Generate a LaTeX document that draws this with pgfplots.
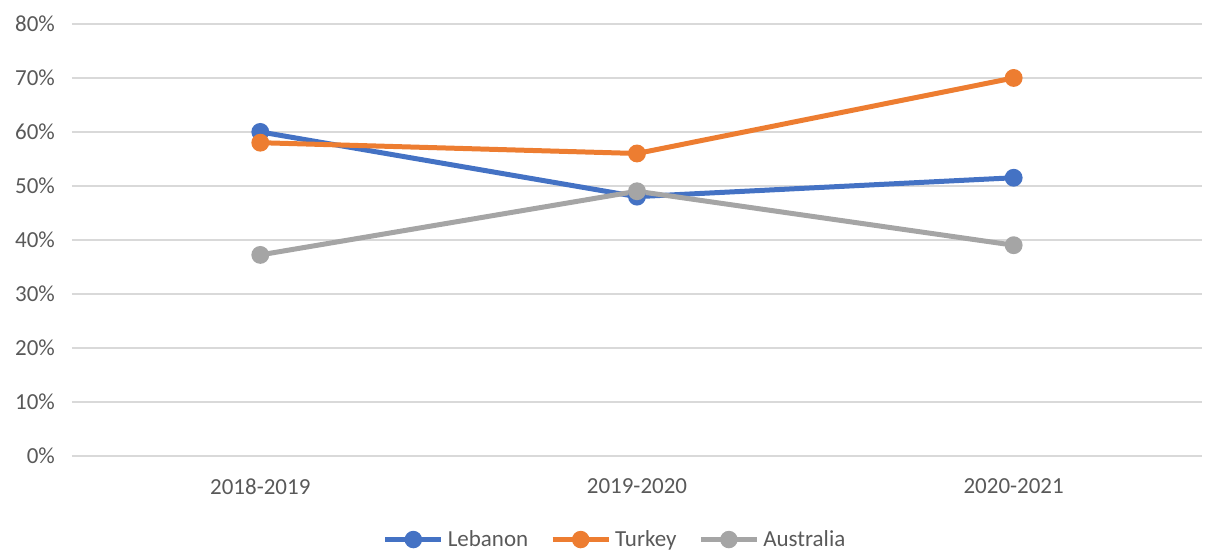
\documentclass[border=0pt]{standalone}
\usepackage{pgfplots}
\pgfplotsset{compat=1.18}
\usepackage{fontspec}
\setmainfont{Carlito}
\definecolor{cblue}{HTML}{4472C4}
\definecolor{corange}{HTML}{ED7D31}
\definecolor{cgray}{HTML}{A5A5A5}
\definecolor{cgrid}{HTML}{D9D9D9}
\definecolor{ctext}{HTML}{595959}
\begin{document}
\begin{tikzpicture}
\path[use as bounding box] (-36pt,-48pt) rectangle (567pt,228pt);
\begin{axis}[
  at={(0,0)}, anchor=south west,
  scale only axis, width=565.5pt, height=216pt,
  xmin=-0.5, xmax=2.5, ymin=0, ymax=80,
  xtick={0,1,2}, xticklabels={2018-2019,2019-2020,2020-2021},
  ytick={0,10,...,80},
  yticklabel={\pgfmathprintnumber{\tick}\%},
  /pgf/number format/assume math mode=true,
  axis line style={draw=none},
  major tick style={draw=none},
  ymajorgrids, grid style={cgrid, line width=1pt},
  tick label style={font=\fontsize{11.5}{13}\selectfont, text=ctext},
  xticklabel style={yshift=-8pt},
  yticklabel style={xshift=-5pt},
  clip=false,
  legend columns=3,
  legend style={at={(0.4815,0)}, anchor=center, yshift=-42pt, draw=none, fill=none,
    font=\fontsize{11.5}{13}\selectfont, text=ctext,
    /tikz/every even column/.append style={column sep=9pt}},
  legend image code/.code={
    \draw[#1, mark=none] (0pt,0pt) -- (28pt,0pt);
    \fill[#1] (14pt,0pt) circle (3.1pt);
  },
  every axis plot/.append style={line width=2.5pt, mark=*, mark size=3.2pt},
]
\addplot[cblue, mark options={fill=cblue, draw=cblue}] coordinates {(0,60) (1,48) (2,51.5)};
\addlegendentry{Lebanon}
\addplot[corange, mark options={fill=corange, draw=corange}] coordinates {(0,58) (1,56) (2,70)};
\addlegendentry{Turkey}
\addplot[cgray, mark options={fill=cgray, draw=cgray}] coordinates {(0,37.2) (1,49) (2,39)};
\addlegendentry{Australia}
\end{axis}
\end{tikzpicture}
\end{document}
